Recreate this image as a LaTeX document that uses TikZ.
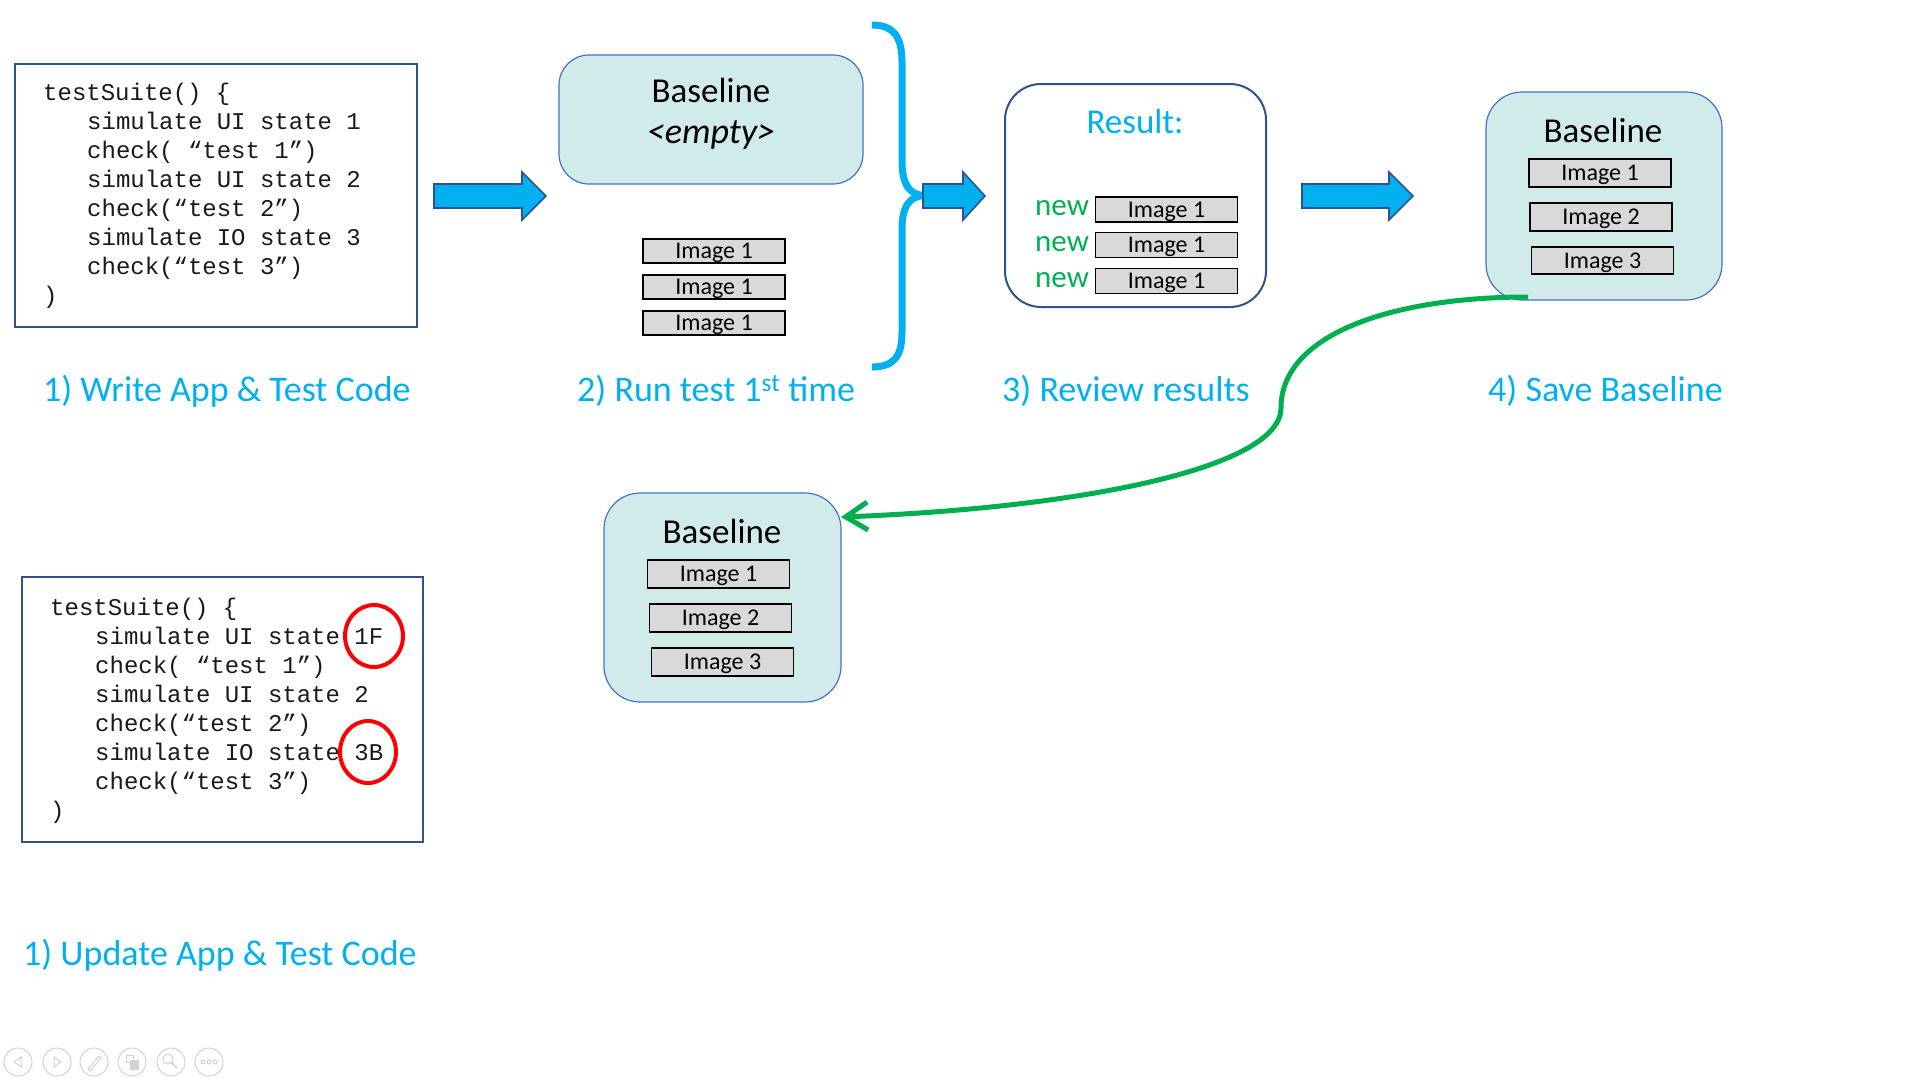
\documentclass[tikz,border=0pt]{standalone}
\usepackage{fontspec}
\setmainfont{Carlito}
\newfontfamily\codefont{Liberation Mono}
\usetikzlibrary{arrows.meta,shapes.geometric,calc}

\definecolor{sky}{HTML}{00B0F0}
\definecolor{navy}{HTML}{2F528F}
\definecolor{tealfill}{HTML}{D0EBEA}
\definecolor{tealedge}{HTML}{4472C4}
\definecolor{imggray}{HTML}{D9D9D9}
\definecolor{okgreen}{HTML}{00B050}
\definecolor{iconline}{HTML}{D2D2D2}
\definecolor{codeink}{HTML}{1A1A1A}

\newcommand\fs[1]{\fontsize{#1}{#1}\selectfont}

% block arrow: left x, head base x, tip x, centre y
\newcommand\blockarrow[4]{%
  \draw[blockarr] (#1,#4-12) -- (#2,#4-12) -- (#2,#4-24) -- (#3,#4)
    -- (#2,#4+24) -- (#2,#4+12) -- (#1,#4+12) -- cycle;}

\tikzset{
  codebox/.style={draw=navy, line width=2pt, fill=white, rectangle, inner sep=0pt},
  codeline/.style={anchor=base west, inner sep=0pt, text=codeink, font=\codefont\fs{24}},
  basebox/.style={draw=tealedge, line width=1.2pt, fill=tealfill, rectangle,
    rounded corners=32pt, inner sep=0pt},
  resultbox/.style={draw=navy, line width=2pt, fill=white, rectangle,
    rounded corners=36pt, inner sep=0pt},
  imgbox/.style={draw=black, line width=1.1pt, fill=imggray, rectangle, inner sep=0pt,
    minimum width=142pt, minimum height=25pt, text height=15pt, text depth=0pt,
    font=\fs{24}},
  title/.style={anchor=base, inner sep=0pt, font=\fs{35}},
  steplabel/.style={anchor=base west, inner sep=0pt, text=sky, font=\fs{36}},
  newtag/.style={anchor=base west, inner sep=0pt, text=okgreen, font=\fs{31}},
  blockarr/.style={fill=sky, draw=navy, line width=1.6pt, line join=miter},
  bracket/.style={draw=sky, line width=7pt},
  redring/.style={draw=red, line width=4pt, ellipse, inner sep=0pt},
  flowback/.style={draw=okgreen, line width=5pt,
    -{Straight Barb[length=22pt,width=28pt]}},
  ctrl/.style={draw=iconline, line width=1pt, fill=none},
}

\begin{document}
\begin{tikzpicture}[x=1pt,y=-1pt]
\useasboundingbox[fill=white] (0,0) rectangle (1920,1080);

% ---------- step 1: test code ----------
\node[codebox, minimum width=402pt, minimum height=263pt] (code1) at (216,195.5) {};
\node[codeline] (c1a) at (43,100) {testSuite() \{};
\node[codeline] (c1b) at (87,129) {simulate UI state 1};
\node[codeline] (c1c) at (87,158) {check( “test 1”)};
\node[codeline] (c1d) at (87,187) {simulate UI state 2};
\node[codeline] (c1e) at (87,216) {check(“test 2”)};
\node[codeline] (c1f) at (87,245) {simulate IO state 3};
\node[codeline] (c1g) at (87,274) {check(“test 3”)};
\node[codeline] (c1h) at (43,303) {)};

\blockarrow{434}{522}{546}{196}

% ---------- step 2: first run ----------
\node[basebox, rounded corners=30pt, minimum width=304pt, minimum height=129pt] (b2) at (711,119.5) {};
\node[title] (b2t) at (711,102) {Baseline};
\node[title] (b2e) at (711,143) {\itshape\fs{36}<empty>};
\node[imgbox, minimum height=24pt] (b2i1) at (714,251) {Image 1};
\node[imgbox, minimum height=24pt] (b2i2) at (714,287) {Image 1};
\node[imgbox, minimum height=24pt] (b2i3) at (714,323) {Image 1};

% curly bracket gathering the run
\draw[bracket] (872,25) .. controls (893,25) and (902,36) .. (902,62)
  -- (902,160) .. controls (902,183) and (908,195) .. (925,195.5);
\draw[bracket] (925,195.5) .. controls (908,196) and (902,208) .. (902,230)
  -- (902,333) .. controls (902,357) and (893,367) .. (872,367);

\blockarrow{923}{963}{985}{196}

% ---------- step 3: results ----------
\node[resultbox, minimum width=261pt, minimum height=223pt] (res) at (1135.5,195.5) {};
\node[title, text=sky] (rest) at (1135,133) {Result:};
\node[newtag] (n1) at (1035,215) {new};
\node[newtag] (n2) at (1035,251) {new};
\node[newtag] (n3) at (1035,287) {new};
\node[imgbox] (r1) at (1166.5,209.5) {Image 1};
\node[imgbox] (r2) at (1166.5,245) {Image 1};
\node[imgbox] (r3) at (1166.5,281) {Image 1};

\blockarrow{1302}{1389}{1413}{196}

% ---------- step 4: saved baseline ----------
\node[basebox, rounded corners=36pt, minimum width=236pt, minimum height=208pt] (b4) at (1604,196) {};
\node[title] (b4t) at (1603,142) {Baseline};
\node[imgbox, minimum height=28pt] (b4i1) at (1600,173) {Image 1};
\node[imgbox, minimum height=28pt] (b4i2) at (1601,217) {Image 2};
\node[imgbox, minimum height=27pt] (b4i3) at (1602.5,260.5) {Image 3};

% ---------- step labels ----------
\node[steplabel] (l1) at (43,401) {1) Write App \& Test Code};
\node[steplabel] (l2) at (577,401) {2) Run test 1\textsuperscript{st} time};
\node[steplabel] (l3) at (1002,401) {3) Review results};
\node[steplabel] (l4) at (1488,401) {4) Save Baseline};

% ---------- baseline reused ----------
\node[basebox, rounded corners=36pt, minimum width=237pt, minimum height=209pt] (b5) at (722.5,597.5) {};
\node[title] (b5t) at (722,543) {Baseline};
\node[imgbox, minimum height=28pt] (b5i1) at (718.5,574) {Image 1};
\node[imgbox, minimum height=28pt] (b5i2) at (720.5,618) {Image 2};
\node[imgbox, minimum height=28pt] (b5i3) at (722.5,662) {Image 3};

\coordinate (gs) at (1528,297);
\coordinate (gm) at (1281,408);
\coordinate (ge) at (841,517);
\draw[flowback] (gs) .. controls (1390,297) and (1281,335) .. (gm)
  .. controls (1281,468) and (1080,508) .. (ge);

% ---------- updated test code ----------
\node[codebox, minimum width=401pt, minimum height=265pt] (code2) at (222.5,709.5) {};
\node[codeline] (c2a) at (50,615) {testSuite() \{};
\node[codeline] (c2b) at (95,644) {simulate UI state 1F};
\node[codeline] (c2c) at (95,673) {check( “test 1”)};
\node[codeline] (c2d) at (95,702) {simulate UI state 2};
\node[codeline] (c2e) at (95,731) {check(“test 2”)};
\node[codeline] (c2f) at (95,760) {simulate IO state 3B};
\node[codeline] (c2g) at (95,789) {check(“test 3”)};
\node[codeline] (c2h) at (50,818) {)};
\node[redring, minimum width=58pt, minimum height=62pt] (ring1) at (374,636) {};
\node[redring, minimum width=56pt, minimum height=62pt] (ring2) at (368,752) {};

\node[steplabel] (l5) at (23,965) {1) Update App \& Test Code};

% ---------- slide show controls ----------
\foreach \cx/\nm in {18/prev,57/next,94/pen,132/slides,171/zoom,209/more}
  \node[ctrl, circle, minimum size=28pt, inner sep=0pt, draw] (\nm) at (\cx,1062) {};
\draw[ctrl] (14,1062) -- (21,1057) -- (21,1067) -- cycle;
\draw[ctrl] (61,1062) -- (54,1057) -- (54,1067) -- cycle;
\draw[ctrl] (88,1069) -- (99,1056) -- (101,1058) -- (90,1071) -- cycle;
\draw[ctrl] (126,1055) rectangle (133,1062);
\draw[ctrl, fill=iconline] (130,1060) rectangle (138,1069);
\draw[ctrl] (168,1059) circle (5pt);
\draw[ctrl, line width=1.6pt] (171.5,1062.5) -- (177,1068);
\foreach \dx in {-6,0,6} \draw[ctrl] (209+\dx,1062) circle (2pt);
\end{tikzpicture}
\end{document}
